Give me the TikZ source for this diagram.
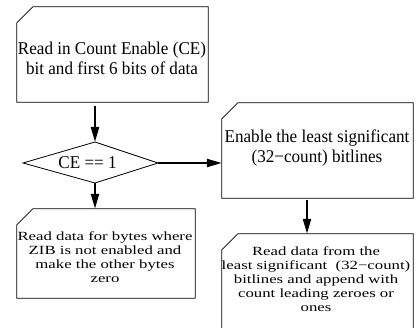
\documentclass[tikz,border=0pt]{standalone}
\usepackage{fontspec}
\setmainfont{Liberation Serif}
\newfontfamily\bigfont[FakeStretch=0.95]{Liberation Serif}
\newfontfamily\smallfont[FakeStretch=1.34]{Liberation Serif}
\usetikzlibrary{arrows.meta}

% контур блока со срезанным левым верхним углом
\newcommand\chambox[1]{%
  \draw[line width=0.8pt] ([yshift=-16pt]#1.north west) -- ([xshift=16pt]#1.north west)
    -- (#1.north east) -- (#1.south east) -- (#1.south west) -- cycle;}

\begin{document}
\begin{tikzpicture}[x=1pt,y=-1pt,
    box/.style={rectangle, inner sep=0pt},
    flow/.style={line width=2.2pt, -{Triangle[length=15pt,width=8pt]}},
    big/.style={font=\bigfont\fontsize{18}{20}\selectfont, align=center, inner sep=0pt},
    small/.style={font=\smallfont\fontsize{12.5}{14}\selectfont, align=center, inner sep=0pt}]
    \useasboundingbox (0,0) rectangle (417,328);

    % Блоки
    \node[box, minimum width=191pt, minimum height=95pt] (read) at (112.5,54.5) {};
    \node[box, minimum width=191pt, minimum height=95pt] (enable) at (317.5,150.5) {};
    \node[box, minimum width=178pt, minimum height=89pt] (zib) at (106,253.5) {};
    \node[box, minimum width=191pt, minimum height=110pt] (append) at (317.5,289) {};
    \chambox{read}
    \chambox{enable}
    \chambox{zib}
    \chambox{append}

    % Тексты блоков
    \node[big] (readtxt) at (112,58) {Read in Count Enable (CE)\\bit and first 6 bits of data};
    \node[big] (enabletxt) at (317,148) {Enable the least significant\\(32−count) bitlines};
    \node[small] (zibtxt) at (105,257) {Read data for bytes where\\ZIB is not enabled and\\make the other bytes\\zero};
    \node[small] (appendtxt) at (316,279) {Read data from the\\least significant\ \ (32−count)\\bitlines and append with\\count leading zeroes or\\ones};

    % Условие (ромб)
    \draw[line width=0.8pt] (95,142) coordinate (dtop) -- (158,163) coordinate (dright)
        -- (95,183) coordinate (dbot) -- (23,163) coordinate (dleft) -- cycle;
    \node[big] (cond) at (87.5,163) {CE == 1};

    % Стрелки
    \coordinate (drop) at (307,0);
    \draw[flow, shorten <=4pt] (read.south -| dtop) -- (dtop);
    \draw[flow] (dbot) -- (dbot |- zib.north);
    \draw[flow] (dright) -- (dright -| enable.west);
    \draw[flow, shorten <=2pt] (enable.south -| drop) -- (append.north -| drop);
\end{tikzpicture}
\end{document}
